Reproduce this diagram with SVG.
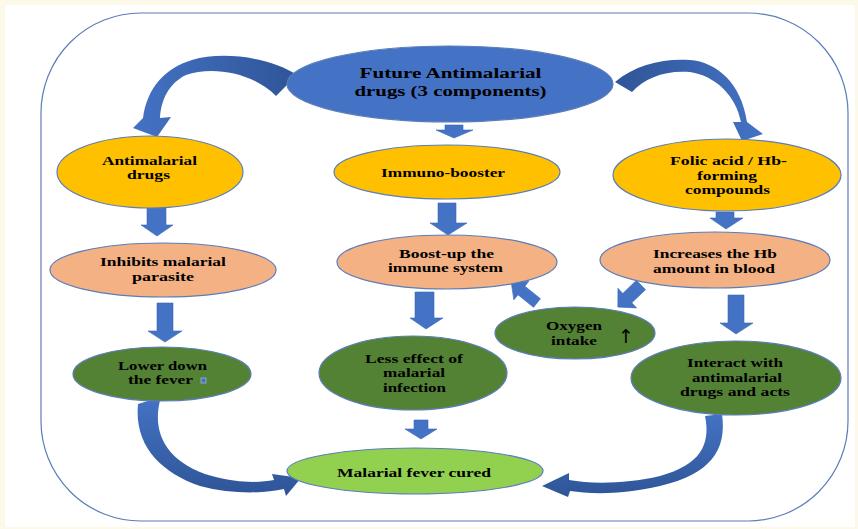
<svg xmlns="http://www.w3.org/2000/svg" width="858" height="529" viewBox="0 0 858 529">
<style>
.t{font-family:"Liberation Serif","Times New Roman",serif;font-weight:bold;font-size:13.5px;fill:#000;text-anchor:middle}
.tt{font-size:15.5px}
.e{stroke:#5B7DB8;stroke-width:1.2}
.blue{fill:#4472C4}
.yel{fill:#FFC000}
.sal{fill:#F4B183}
.dg{fill:#548235}
.lg{fill:#92D050}
.ar{fill:#4472C4;stroke:#3D67B3;stroke-width:0.6}
</style>
<defs>
<linearGradient id="gL" x1="1" y1="0" x2="0" y2="0"><stop offset="0" stop-color="#2F5597"/><stop offset="1" stop-color="#4472C4"/></linearGradient>
<linearGradient id="gR" x1="0" y1="0" x2="1" y2="0"><stop offset="0" stop-color="#2F5597"/><stop offset="1" stop-color="#4472C4"/></linearGradient>
<linearGradient id="gB" x1="0" y1="0" x2="0" y2="1"><stop offset="0" stop-color="#4472C4"/><stop offset="1" stop-color="#2F5597"/></linearGradient>
</defs>
<rect x="0" y="0" width="858" height="529" fill="#FDF9E8"/>
<rect x="5" y="5" width="850" height="522" fill="#FFFFFF"/>
<rect x="41" y="13" width="807" height="508" rx="100" ry="100" fill="none" stroke="#5B7DB8" stroke-width="1.2"/>

<g id="connectors">
<polygon class="ar" points="445,125 463,125 463,130 473,130 454,138 436,130 445,130"/>
<polygon class="ar" points="147,204 166,204 166,225 173,225 157,236 141,225 147,225"/>
<polygon class="ar" points="438,203 456,203 456,223 467,223 448,235 430,223 438,223"/>
<polygon class="ar" points="716,212 734,212 734,218 743,218 726,229 710,218 716,218"/>
<polygon class="ar" points="157,303 173,303 173,331 182,331 165,342 148,331 157,331"/>
<polygon class="ar" points="415,292 434,292 434,318 443,318 426,329 410,318 415,318"/>
<polygon class="ar" points="728,295 744,295 744,323 753,323 736,334 720,323 728,323"/>
<polygon class="ar" points="414,420 428,420 428,429 437,429 421,439 405,429 414,429"/>
<polygon class="ar" transform="translate(537,303) rotate(218.7)" points="0,-5.5 20,-5.5 20,-12 33,0 20,12 20,5.5 0,5.5"/>
<polygon class="ar" transform="translate(641,285) rotate(136.3)" points="0,-6.5 19,-6.5 19,-13.5 32,0 19,13.5 19,6.5 0,6.5"/>
<path fill="url(#gL)" d="M 297,75 C 270,57 222,51 192,60 C 165,68 147,88 143,118 L 133,128 L 157,137 L 171,117 L 160,118 C 161,100 169,83 186,75 C 212,66 252,72 276,96 Z"/>
<path fill="url(#gR)" d="M 615,82 C 636,64 665,58 690,60 C 716,62 741,82 747,122 L 763,134 L 742,141 L 733,122 L 741,122 C 736,96 716,76 690,72 C 665,70 645,78 632,92 Z"/>
<path fill="url(#gB)" d="M 161,397 C 151,430 164,462 212,476 C 238,483 258,483 274,480 L 272,474 L 301,478 L 286,496 L 284,489 C 262,494 230,494 200,486 C 160,472 134,445 138,404 Z"/>
<path fill="url(#gB)" d="M 705,416 L 722,414 C 727,450 711,474 660,486 C 622,495 590,494 570,491 L 568,497 L 542,486 L 569,473 L 569,480 C 591,484 626,484 660,476 C 700,465 711,445 705,416 Z"/>
</g>

<g id="n-top">
<ellipse class="e blue" cx="450" cy="84" rx="163" ry="38"/>
<text class="t tt" x="450.5" y="78" textLength="182" lengthAdjust="spacingAndGlyphs">Future Antimalarial</text>
<text class="t tt" x="450.5" y="96" textLength="192" lengthAdjust="spacingAndGlyphs">drugs (3 components)</text>
</g>
<g id="n-antimalarial">
<ellipse class="e yel" cx="150" cy="172" rx="93" ry="36"/>
<text class="t" x="149.5" y="165" textLength="95" lengthAdjust="spacingAndGlyphs">Antimalarial</text>
<text class="t" x="148.5" y="179" textLength="43" lengthAdjust="spacingAndGlyphs">drugs</text>
</g>
<g id="n-immuno">
<ellipse class="e yel" cx="447" cy="172" rx="113" ry="27"/>
<text class="t" x="443" y="177" textLength="124" lengthAdjust="spacingAndGlyphs">Immuno-booster</text>
</g>
<g id="n-folic">
<ellipse class="e yel" cx="727" cy="175" rx="114" ry="36"/>
<text class="t" x="728.5" y="165" textLength="117" lengthAdjust="spacingAndGlyphs">Folic acid / Hb-</text>
<text class="t" x="727" y="180" textLength="60" lengthAdjust="spacingAndGlyphs">forming</text>
<text class="t" x="727.5" y="194" textLength="85" lengthAdjust="spacingAndGlyphs">compounds</text>
</g>
<g id="n-inhibits">
<ellipse class="e sal" cx="163" cy="270" rx="113" ry="27"/>
<text class="t" x="163" y="266" textLength="126" lengthAdjust="spacingAndGlyphs">Inhibits malarial</text>
<text class="t" x="163" y="281" textLength="62" lengthAdjust="spacingAndGlyphs">parasite</text>
</g>
<g id="n-boost">
<ellipse class="e sal" cx="447" cy="262" rx="110" ry="27"/>
<text class="t" x="446.5" y="258" textLength="95" lengthAdjust="spacingAndGlyphs">Boost-up the</text>
<text class="t" x="445.5" y="272" textLength="115" lengthAdjust="spacingAndGlyphs">immune system</text>
</g>
<g id="n-increases">
<ellipse class="e sal" cx="715" cy="260" rx="115" ry="28"/>
<text class="t" x="715" y="258" textLength="124" lengthAdjust="spacingAndGlyphs">Increases the Hb</text>
<text class="t" x="714" y="273" textLength="122" lengthAdjust="spacingAndGlyphs">amount in blood</text>
</g>
<g id="n-lower">
<ellipse class="e dg" cx="162" cy="374" rx="89" ry="27"/>
<text class="t" x="162.5" y="370" textLength="89" lengthAdjust="spacingAndGlyphs">Lower down</text>
<text class="t" x="160.5" y="384" textLength="65" lengthAdjust="spacingAndGlyphs">the fever</text>
<rect x="201" y="378" width="5" height="5" fill="#4472C4" stroke="#9DB3DC" stroke-width="0.8"/>
</g>
<g id="n-less">
<ellipse class="e dg" cx="413" cy="373" rx="94" ry="37"/>
<text class="t" x="414" y="363" textLength="98" lengthAdjust="spacingAndGlyphs">Less effect of</text>
<text class="t" x="414" y="377" textLength="62" lengthAdjust="spacingAndGlyphs">malarial</text>
<text class="t" x="414.5" y="392" textLength="63" lengthAdjust="spacingAndGlyphs">infection</text>
</g>
<g id="n-oxygen">
<ellipse class="e dg" cx="575" cy="333" rx="80" ry="26"/>
<text class="t" x="574" y="330" textLength="56" lengthAdjust="spacingAndGlyphs">Oxygen</text>
<text class="t" x="574" y="345" textLength="46" lengthAdjust="spacingAndGlyphs">intake</text>
<text x="626" y="343" font-family="DejaVu Sans, sans-serif" font-size="19" font-weight="normal" text-anchor="middle" fill="#000">↑</text>
</g>
<g id="n-interact">
<ellipse class="e dg" cx="736" cy="378" rx="105" ry="37"/>
<text class="t" x="735" y="367" textLength="96" lengthAdjust="spacingAndGlyphs">Interact with</text>
<text class="t" x="737" y="382" textLength="90" lengthAdjust="spacingAndGlyphs">antimalarial</text>
<text class="t" x="735" y="396" textLength="110" lengthAdjust="spacingAndGlyphs">drugs and acts</text>
</g>
<g id="n-cured">
<ellipse class="e lg" cx="415" cy="471" rx="128" ry="23"/>
<text class="t" x="414" y="477" textLength="154" lengthAdjust="spacingAndGlyphs">Malarial fever cured</text>
</g>
</svg>
